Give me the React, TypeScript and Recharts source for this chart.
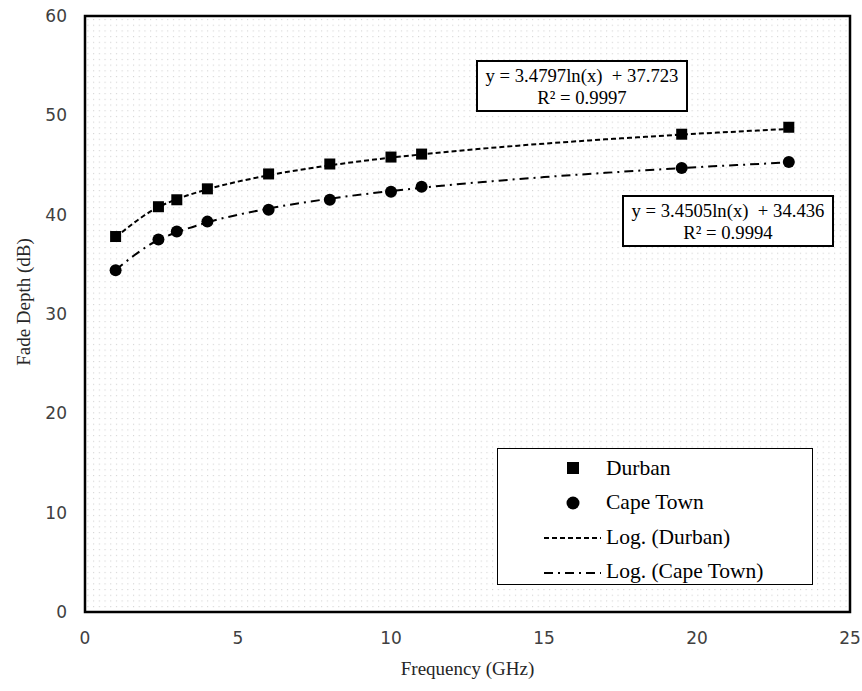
import React from "react";
import {
  ComposedChart,
  Line,
  Scatter,
  XAxis,
  YAxis,
  ReferenceArea,
} from "recharts";

const freqs = [1, 2.4, 3, 4, 6, 8, 10, 11, 19.5, 23];
const durban = [37.8, 40.8, 41.5, 42.6, 44.1, 45.1, 45.8, 46.1, 48.1, 48.8];
const capeTown = [34.4, 37.5, 38.3, 39.3, 40.5, 41.5, 42.3, 42.8, 44.7, 45.3];

// trend lines
const trendFreqs = [1, 2.4, 3, 4, 6, 8, 10, 11, 13, 15, 17, 19.5, 23];
const durbanTrend = [37.72, 40.77, 41.55, 42.55, 43.96, 44.96, 45.74, 46.07, 46.65, 47.15, 47.58, 48.06, 48.63];
const capeTownTrend = [34.44, 37.46, 38.22, 39.22, 40.62, 41.61, 42.38, 42.71, 43.29, 43.78, 44.21, 44.69, 45.26];

const xTicks = [0, 5, 10, 15, 20, 25];
const yTicks = [0, 10, 20, 30, 40, 50, 60];

const durbanPts = freqs.map((x, i) => ({ x, y: durban[i] }));
const capePts = freqs.map((x, i) => ({ x, y: capeTown[i] }));
const durbanLine = trendFreqs.map((x, i) => ({ x, y: durbanTrend[i] }));
const capeLine = trendFreqs.map((x, i) => ({ x, y: capeTownTrend[i] }));

const serif = "'Liberation Serif', 'Times New Roman', serif";
const sans = "'DejaVu Sans', sans-serif";

function Square(props: any) {
  const { cx, cy } = props;
  return <rect x={cx - 5.5} y={cy - 5.5} width={11} height={11} fill="#000" />;
}

function Dot(props: any) {
  const { cx, cy } = props;
  return <circle cx={cx} cy={cy} r={6} fill="#000" />;
}

function LegendBox() {
  const row = { display: "flex", alignItems: "center", height: 34.5 };
  const label = { fontFamily: serif, fontSize: 21.5, color: "#000" };
  return (
    <div
      style={{
        position: "absolute",
        left: 497,
        top: 448,
        width: 316,
        height: 137,
        border: "1.5px solid #000",
        background: "#fff",
        boxSizing: "border-box",
        padding: "2px 0 0 45px",
      }}
    >
      <div style={row}>
        <svg width={63} height={14}>
          <rect x={24} y={1} width={12} height={12} fill="#000" />
        </svg>
        <span style={label}>Durban</span>
      </div>
      <div style={row}>
        <svg width={63} height={14}>
          <circle cx={30} cy={7} r={6.5} fill="#000" />
        </svg>
        <span style={label}>Cape Town</span>
      </div>
      <div style={row}>
        <svg width={63} height={14}>
          <line x1={1} y1={8} x2={58} y2={8} stroke="#000" strokeWidth={2} strokeDasharray="5 3" />
        </svg>
        <span style={label}>Log. (Durban)</span>
      </div>
      <div style={row}>
        <svg width={63} height={14}>
          <line x1={1} y1={8} x2={58} y2={8} stroke="#000" strokeWidth={2} strokeDasharray="9 5 2 5" />
        </svg>
        <span style={label}>Log. (Cape Town)</span>
      </div>
    </div>
  );
}

function EqBox({ left, top, eq, r2 }: { left: number; top: number; eq: string; r2: string }) {
  return (
    <div
      style={{
        position: "absolute",
        left,
        top,
        width: 212,
        height: 52,
        border: "2px solid #000",
        background: "#fff",
        boxSizing: "border-box",
        fontFamily: serif,
        fontSize: 18.7,
        lineHeight: "22px",
        textAlign: "center",
        paddingTop: 3,
        color: "#000",
      }}
    >
      <div style={{ whiteSpace: "pre" }}>{eq}</div>
      <div>{r2}</div>
    </div>
  );
}

function YTitle() {
  return (
    <text
      x={30}
      y={302}
      transform="rotate(-90 30 302)"
      textAnchor="middle"
      fill="#262626"
      fontSize={19}
      fontFamily={serif}
    >
      Fade Depth (dB)
    </text>
  );
}

export default function App() {
  return (
    <div style={{ position: "absolute", left: 0, top: 0, width: 862, height: 691, background: "#fff" }}>
      <ComposedChart width={862} height={691} margin={{ top: 16, right: 12, bottom: 0, left: 0 }}>
        <defs>
          <pattern id="dots" width={5.7} height={5.7} patternUnits="userSpaceOnUse">
            <rect x={2} y={2} width={1} height={1} fill="#c8c8c8" />
          </pattern>
        </defs>
        <XAxis
          type="number"
          dataKey="x"
          domain={[0, 25]}
          ticks={xTicks}
          axisLine={false}
          tickLine={false}
          height={79}
          tick={{ fill: "#404040", fontSize: 17, fontFamily: sans, dy: 12 }}
          label={{
            value: "Frequency (GHz)",
            position: "insideBottom",
            offset: 16,
            fill: "#262626",
            fontSize: 19,
            fontFamily: serif,
          }}
          allowDuplicatedCategory={false}
        />
        <YAxis
          type="number"
          dataKey="y"
          domain={[0, 60]}
          ticks={yTicks}
          axisLine={false}
          tickLine={false}
          width={85}
          tick={{ fill: "#404040", fontSize: 17, fontFamily: sans, dx: -10 }}
          label={{ content: () => <YTitle /> }}
        />
        <ReferenceArea
          x1={0}
          x2={25}
          y1={0}
          y2={60}
          fill="url(#dots)"
          fillOpacity={1}
          stroke="#000"
          strokeWidth={2.5}
        />
        <Line
          data={durbanLine}
          dataKey="y"
          type="monotone"
          stroke="#000"
          strokeWidth={2}
          strokeDasharray="5 3"
          dot={false}
          activeDot={false}
          isAnimationActive={false}
        />
        <Line
          data={capeLine}
          dataKey="y"
          type="monotone"
          stroke="#000"
          strokeWidth={2}
          strokeDasharray="9 5 2 5"
          dot={false}
          activeDot={false}
          isAnimationActive={false}
        />
        <Scatter data={durbanPts} dataKey="y" shape={<Square />} isAnimationActive={false} />
        <Scatter data={capePts} dataKey="y" shape={<Dot />} isAnimationActive={false} />
      </ComposedChart>
      <EqBox left={476} top={60} eq={"y = 3.4797ln(x)  + 37.723"} r2={"R² = 0.9997"} />
      <EqBox left={622} top={195} eq={"y = 3.4505ln(x)  + 34.436"} r2={"R² = 0.9994"} />
      <LegendBox />
    </div>
  );
}
